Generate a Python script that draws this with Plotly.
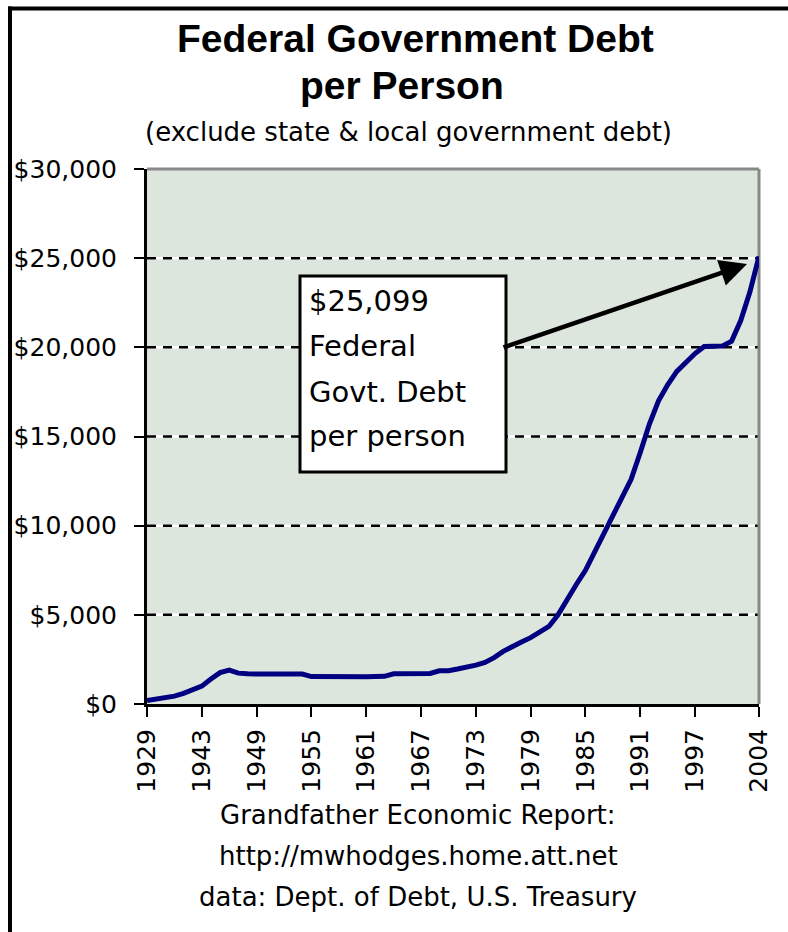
import plotly.graph_objects as go

# ---- data ----
years = ["1929", "1938", "1939", "1940", "1941", "1942"] + [str(y) for y in range(1943, 2005)]
debt_per_person = [
    200, 270, 320, 440, 600, 790,                     # 1929, 1938-1942
    1000, 1400, 1760, 1900, 1730, 1690, 1680,         # 1943-1949
    1680, 1680, 1680, 1680, 1680, 1540, 1530,         # 1950-1956
    1530, 1520, 1520, 1530, 1530, 1540, 1550,         # 1957-1963
    1690, 1700, 1700, 1700, 1710, 1860, 1870,         # 1964-1970
    1960, 2050, 2180, 2330, 2600, 2950, 3250,         # 1971-1977
    3480, 3720, 4000, 4350, 5000, 5900, 6700,         # 1978-1984
    7500, 8500, 9500, 10500, 11500, 12600, 14100,     # 1985-1991
    15700, 17000, 17900, 18650, 19150, 19650, 20050,  # 1992-1998
    20080, 20080, 20350, 21500, 23100, 25099,         # 1999-2004
]
x_tick_labels = ["1929", "1943", "1949", "1955", "1961", "1967", "1973",
                 "1979", "1985", "1991", "1997", "2004"]
y_tick_values = [0, 5000, 10000, 15000, 20000, 25000, 30000]
y_tick_labels = ["$0", "$5,000", "$10,000", "$15,000", "$20,000", "$25,000", "$30,000"]
grid_values = [5000, 10000, 15000, 20000, 25000]

title_line1 = "Federal Government Debt"
title_line2 = "per Person"
subtitle = "(exclude state & local government debt)"
box_lines = ["$25,099", "Federal", "Govt. Debt", "per person"]
footer_lines = ["Grandfather Economic Report:", "http://mwhodges.home.att.net",
                "data: Dept. of Debt, U.S. Treasury"]

# ---- layout geometry (pixels) ----
W, H = 788, 932
L, R, T, B = 147, 759, 169, 704
pw, ph = R - L, B - T


def px(xp):
    return (xp - L) / pw


def py(yp):
    return (B - yp) / ph


TXT = "DejaVu Sans"

fig = go.Figure()
fig.add_trace(go.Scatter(
    x=years, y=debt_per_person, mode="lines",
    line=dict(color="#000080", width=5), hoverinfo="x+y", showlegend=False,
))

shapes = []
# gridlines: white base + black dashes
for g in grid_values:
    shapes.append(dict(type="line", xref="x domain", yref="y", x0=0, x1=1, y0=g, y1=g,
                       line=dict(color="white", width=2.5), layer="below"))
    shapes.append(dict(type="line", xref="x domain", yref="y", x0=0, x1=1, y0=g, y1=g,
                       line=dict(color="black", width=2.5, dash="9px,7px"), layer="below"))
# grey top and right plot border
shapes.append(dict(type="line", xref="x domain", yref="y domain", x0=0, x1=1, y0=1, y1=1,
                   line=dict(color="#888888", width=3), layer="below"))
shapes.append(dict(type="line", xref="x domain", yref="y domain", x0=1, x1=1, y0=0, y1=1,
                   line=dict(color="#888888", width=3), layer="below"))
# text box
shapes.append(dict(type="rect", xref="paper", yref="paper",
                   x0=px(300), x1=px(506), y0=py(472), y1=py(276),
                   line=dict(color="black", width=3), fillcolor="white", layer="above"))
# outer frame (left + top)
shapes.append(dict(type="line", xref="paper", yref="paper",
                   x0=px(10), x1=px(10), y0=py(6.5), y1=py(940),
                   line=dict(color="black", width=4)))
shapes.append(dict(type="line", xref="paper", yref="paper",
                   x0=px(8), x1=px(800), y0=py(8.5), y1=py(8.5),
                   line=dict(color="black", width=4)))

annotations = []
annotations.append(dict(text="<b>%s</b>" % title_line1, xref="paper", yref="paper",
                        x=px(415), y=py(39), xanchor="center", yanchor="middle", showarrow=False,
                        font=dict(family="Liberation Sans", size=39, color="black")))
annotations.append(dict(text="<b>%s</b>" % title_line2, xref="paper", yref="paper",
                        x=px(402), y=py(86), xanchor="center", yanchor="middle", showarrow=False,
                        font=dict(family="Liberation Sans", size=39, color="black")))
annotations.append(dict(text=subtitle, xref="paper", yref="paper",
                        x=px(408), y=py(132), xanchor="center", yanchor="middle", showarrow=False,
                        font=dict(family=TXT, size=26, color="black")))
for txt, yc in zip(box_lines, [301, 346, 392, 436]):
    annotations.append(dict(text=txt, xref="paper", yref="paper",
                            x=px(307), y=py(yc), xanchor="left", yanchor="middle", showarrow=False,
                            font=dict(family=TXT, size=29, color="black")))
for txt, yc in zip(footer_lines, [815, 856, 897]):
    annotations.append(dict(text=txt, xref="paper", yref="paper",
                            x=px(418), y=py(yc), xanchor="center", yanchor="middle", showarrow=False,
                            font=dict(family=TXT, size=26, color="black")))
# arrow from the box to the last value
annotations.append(dict(text="", xref="x domain", yref="y domain",
                        axref="x domain", ayref="y domain",
                        x=px(747), y=py(264), ax=px(502), ay=py(348),
                        showarrow=True, arrowhead=2, arrowsize=1.2, arrowwidth=4.5,
                        arrowcolor="black", standoff=0, startstandoff=0))

fig.update_layout(
    width=W, height=H,
    margin=dict(l=L, r=W - R, t=T, b=H - B, pad=0),
    paper_bgcolor="white", plot_bgcolor="#dde6dd",
    shapes=shapes, annotations=annotations, showlegend=False,
    xaxis=dict(type="category", categoryorder="array", categoryarray=years,
               range=[0, len(years) - 1],
               tickmode="array", tickvals=x_tick_labels, ticktext=x_tick_labels,
               tickangle=-90, ticks="outside", ticklen=10, tickwidth=2, tickcolor="black",
               showline=True, linecolor="black", linewidth=3, showgrid=False, zeroline=False,
               tickfont=dict(family=TXT, size=25, color="black"), ticklabelstandoff=2),
    yaxis=dict(range=[0, 30000], tickmode="array", tickvals=y_tick_values,
               ticktext=y_tick_labels,
               ticks="outside", ticklen=10, tickwidth=2, tickcolor="black",
               showline=True, linecolor="black", linewidth=3, showgrid=False, zeroline=False,
               tickfont=dict(family=TXT, size=25, color="black"), ticklabelstandoff=12),
)

fig.write_html("out.html")
